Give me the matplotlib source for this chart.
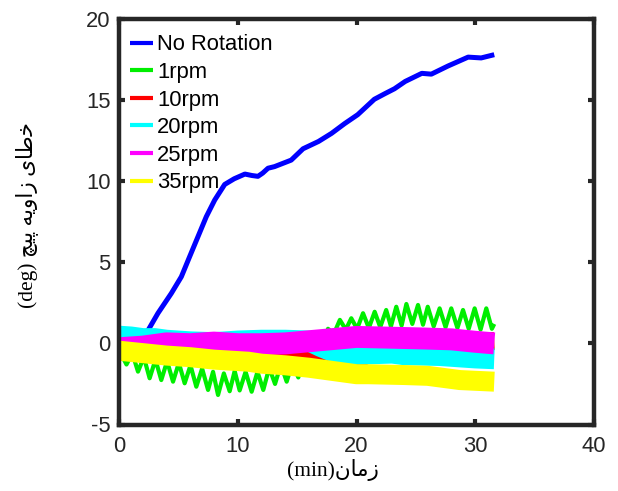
import matplotlib
matplotlib.use("Agg")
import matplotlib.pyplot as plt
from matplotlib.lines import Line2D

plt.rcParams["axes.unicode_minus"] = False

# ---------------- data ----------------
labels = ["No Rotation", "1rpm", "10rpm", "20rpm", "25rpm", "35rpm"]
colors = ["#0000ff", "#00ee00", "#ff0000", "#00ffff", "#ff00ff", "#ffff00"]

nr_t = [0, 1.0, 2.3, 3.28, 4.41, 5.25, 5.95, 6.65, 7.35, 8.06, 8.9, 9.7, 10.6, 11.2, 11.7,
        12.1, 12.55, 13.1, 14.5, 15.5, 16.8, 17.9, 19.0, 20.1, 21.5, 22.4, 23.2, 24.1, 25.5,
        26.3, 27.7, 29.4, 30.5, 31.6]
nr_y = [0.0, 0.1, 0.62, 1.86, 3.09, 4.11, 5.35, 6.58, 7.81, 8.84, 9.8, 10.15, 10.44, 10.35, 10.3,
        10.5, 10.8, 10.9, 11.3, 12.0, 12.45, 12.95, 13.55, 14.1, 15.05, 15.4, 15.7, 16.15, 16.65,
        16.6, 17.1, 17.65, 17.6, 17.8]

r1_t = [0.0, 0.63, 1.12, 1.6, 2.09, 2.58, 3.07, 3.56, 4.05, 4.55, 5.04, 5.53, 6.02, 6.51, 7.0,
        7.5, 7.92, 8.34, 8.83, 9.32, 9.74, 10.16, 10.66, 11.17, 11.66, 12.15, 12.65, 13.14, 13.63,
        14.12, 14.6, 15.1, 15.6, 16.1, 16.6, 17.1, 17.6, 18.1, 18.6, 19.1, 19.56, 20.05, 20.55,
        21.04, 21.53, 22.0, 22.5, 22.9, 23.35, 23.8, 24.2, 24.7, 25.18, 25.6, 26.0, 26.5, 27.0,
        27.5, 27.98, 28.5, 28.97, 29.45, 29.95, 30.45, 30.93, 31.4, 31.6]
r1_y = [-0.4, -1.3, -0.6, -1.74, -0.85, -2.15, -1.0, -2.26, -1.1, -2.36, -1.2, -2.46, -1.35, -2.67, -1.55,
        -2.87, -1.75, -3.18, -1.85, -2.95, -1.7, -2.9, -1.75, -2.98, -1.75, -2.87, -1.5, -2.5, -1.3,
        -2.36, -1.2, -2.1, -0.7, -1.5, 0.0, -0.8, 0.9, 0.6, 1.45, 0.85, 1.55, 0.9, 1.86,
        0.95, 1.95, 1.0, 2.06, 1.05, 2.26, 1.1, 2.43, 1.2, 2.37, 1.15, 2.26, 1.05, 2.16,
        1.0, 2.16, 0.95, 2.06, 0.9, 2.16, 0.85, 2.16, 0.9, 1.2]

r10_t = [0, 5, 10, 15, 17.5, 18.6, 19.5, 20.3, 21, 23, 26, 29, 31.6]
r10_y = [-0.3, -0.45, -0.6, -0.75, -0.85, -0.9, -1.0, -0.95, -0.6, -0.3, -0.1, 0.05, 0.15]

r20_t = [0, 1, 2, 3, 4, 6, 8, 10, 12, 14, 16, 17, 18, 19, 21, 23, 24, 27, 30, 31.6]
r20_y = [0.45, 0.4, 0.3, 0.3, 0.2, 0.1, 0.05, 0.15, 0.2, 0.2, 0.15, -0.2, -0.5, -0.7, -0.65, -0.6,
         -0.7, -0.75, -0.9, -0.95]

r25_t = [0, 2, 4, 6, 8, 10, 12, 14, 15.5, 17, 20, 23, 25.8, 28, 30, 31.6]
r25_y = [-0.3, -0.2, 0.0, -0.05, 0.05, -0.05, -0.05, 0.0, 0.1, 0.2, 0.4, 0.35, 0.3, 0.25, 0.1, 0.0]

r35_t = [0, 2, 4, 6, 8, 10.9, 12, 14, 16, 18, 20, 21, 24, 26, 28.7, 31.6]
r35_y = [-0.45, -0.6, -0.75, -0.85, -1.0, -1.13, -1.25, -1.35, -1.5, -1.7, -1.9, -1.9, -1.95, -2.0,
         -2.26, -2.36]

x_ticks = [0, 10, 20, 30, 40]
y_ticks = [-5, 0, 5, 10, 15, 20]

# Persian labels, pre-shaped into visual order (presentation forms)
xlabel_txt = "(min)" + "\uFEE5\uFE8E\uFEE3\uFEAF"
ylabel_txt = ("(deg) " + "\uFB7B\uFEF4\uFB58" + " " + "\uFEEA\uFEF3\uFEED\uFE8D\uFEAF"
              + " " + "\uFEEF\uFE8E\uFEC3\uFEA7")

# ---------------- figure ----------------
W, H = 618, 491
fig = plt.figure(figsize=(W / 100, H / 100), dpi=100)
L, R, T, B = 119, 594, 19, 424.5
ax = fig.add_axes([L / W, 1 - B / H, (R - L) / W, (B - T) / H])

series = [(nr_t, nr_y, 3.6), (r1_t, r1_y, 3.0), (r10_t, r10_y, 13.0),
          (r20_t, r20_y, 15.0), (r25_t, r25_y, 15.8), (r35_t, r35_y, 14.4)]
for (t, y, lw), c, lab in zip(series, colors, labels):
    ax.plot(t, y, color=c, lw=lw, solid_capstyle="butt", solid_joinstyle="round", label=lab)

ax.set_xlim(0, 40)
ax.set_ylim(-5, 20)
ax.set_xticks(x_ticks)
ax.set_yticks(y_ticks)
ax.tick_params(direction="in", length=4, width=3, top=True, right=True, colors="#262626",
               labelsize=15.8)
ax.tick_params(axis="x", pad=8)
ax.tick_params(axis="y", pad=6)
for lab in ax.get_xticklabels() + ax.get_yticklabels():
    lab.set_family(["Liberation Sans", "DejaVu Sans"])
    lab.set_color("#262626")
for s in ax.spines.values():
    s.set_linewidth(3.2)
    s.set_color("#262626")

leg_handles = [Line2D([0], [0], color=c, lw=3, solid_capstyle="butt") for c in colors]
ax.legend(leg_handles, labels, loc="upper left", bbox_to_anchor=(0.023, 0.962),
          frameon=False, handlelength=1.05, handletextpad=0.18, labelspacing=0.3,
          borderpad=0, borderaxespad=0,
          prop={"family": ["Liberation Sans", "DejaVu Sans"], "size": 15.8})

fig.text(333 / W, 1 - 470 / H, xlabel_txt, ha="center", va="center", fontsize=15.5,
         family=["Liberation Serif", "DejaVu Sans"], color="black")
fig.text(27 / W, 1 - 215 / H, ylabel_txt, ha="center", va="center", rotation=90,
         fontsize=15.5, family=["Liberation Serif", "DejaVu Sans"], color="black")

fig.savefig("out.png", dpi=100)
